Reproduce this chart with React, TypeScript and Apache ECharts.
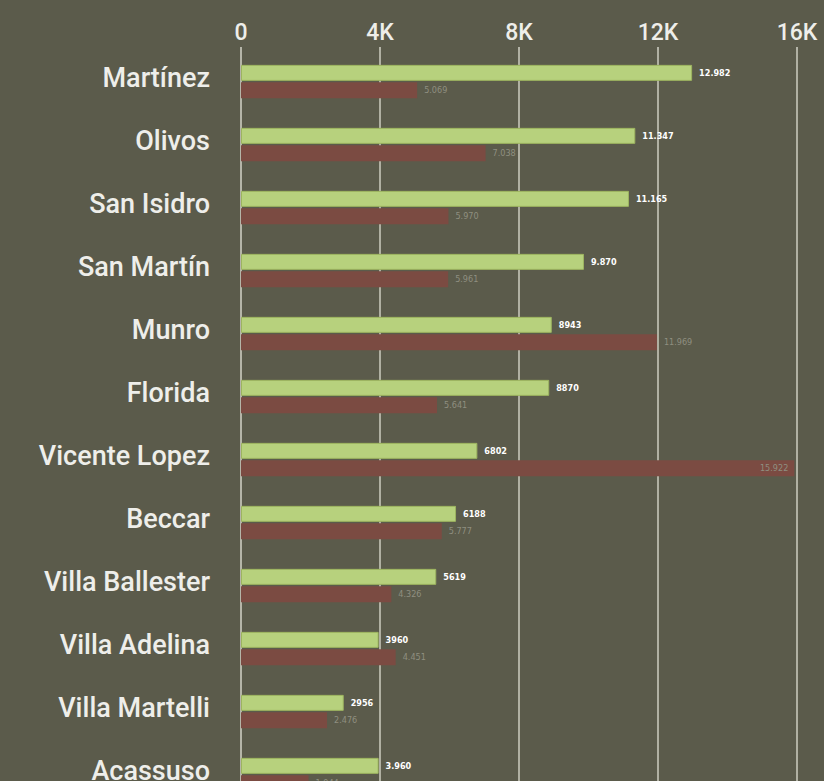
import React, { useEffect, useRef } from "react";
import * as echarts from "echarts";

const categories = [
  "Martínez", "Olivos", "San Isidro", "San Martín", "Munro", "Florida",
  "Vicente Lopez", "Beccar", "Villa Ballester", "Villa Adelina", "Villa Martelli", "Acassuso",
];
const greenValues = [12982, 11347, 11165, 9870, 8943, 8870, 6802, 6188, 5619, 3960, 2956, 3960];
const greenLabels = ["12.982", "11.347", "11.165", "9.870", "8943", "8870", "6802", "6188", "5619", "3960", "2956", "3.960"];
const redValues = [5069, 7038, 5970, 5961, 11969, 5641, 15922, 5777, 4326, 4451, 2476, 1944];
const redLabels = ["5.069", "7.038", "5.970", "5.961", "11.969", "5.641", "15.922", "5.777", "4.326", "4.451", "2.476", "1.944"];
const xTicks = [0, 4000, 8000, 12000, 16000];

const FONT = "Roboto, 'Liberation Sans', sans-serif";
const SMALL = "'DejaVu Sans Condensed', 'DejaVu Sans', sans-serif";

export default function App() {
  const ref = useRef<HTMLDivElement>(null);
  useEffect(() => {
    if (!ref.current) return;
    const chart = echarts.init(ref.current, null, { renderer: "svg" });
    chart.setOption({
      animation: false,
      backgroundColor: "#5b5b4b",
      grid: { left: 241, right: 27, top: 50, bottom: 14 },
      xAxis: {
        type: "value",
        position: "top",
        min: xTicks[0],
        max: xTicks[xTicks.length - 1],
        interval: 4000,
        axisLine: { show: false },
        axisTick: { show: true, length: 3, lineStyle: { color: "#b5b5a8", width: 2 } },
        splitLine: { show: true, lineStyle: { color: "#b0b0a2", width: 2 } },
        axisLabel: {
          color: "#eeeeea",
          fontFamily: FONT,
          fontWeight: 500,
          fontSize: 23,
          margin: 6,
          formatter: (v: number) => (v === 0 ? "0" : v / 1000 + "K"),
        },
      },
      yAxis: {
        type: "category",
        data: categories,
        inverse: true,
        axisLine: { show: true, lineStyle: { color: "#b5b5a8", width: 2 } },
        axisTick: { show: false },
        axisLabel: {
          margin: 31,
          formatter: (v: string) => "{c|" + v + "}",
          rich: {
            c: {
              color: "#eeeeea",
              fontFamily: FONT,
              fontWeight: 500,
              fontSize: 27,
              padding: [0, 0, 8, 0],
            },
          },
        },
      },
      series: [
        {
          type: "bar",
          data: greenValues,
          barWidth: 16,
          barGap: "8%",
          itemStyle: { color: "#b7d17d", borderColor: "#9db460", borderWidth: 1 },
          label: {
            show: true,
            position: "right",
            distance: 7,
            color: "#ffffff",
            fontFamily: SMALL,
            fontWeight: "bold",
            fontSize: 9,
            formatter: (p: any) => greenLabels[p.dataIndex],
          },
        },
        {
          type: "bar",
          data: redValues.map((v) => ({
            value: v,
            label: v > 15000 ? { position: "insideRight", distance: 6 } : undefined,
          })),
          barWidth: 16,
          itemStyle: { color: "#7b4b42" },
          label: {
            show: true,
            position: "right",
            distance: 7,
            color: "#8f8f80",
            fontFamily: SMALL,
            fontSize: 9,
            formatter: (p: any) => redLabels[p.dataIndex],
          },
        },
      ],
    });
    return () => chart.dispose();
  }, []);
  return (
    <div style={{ position: "fixed", left: 0, top: 0, width: 824, height: 781, overflow: "hidden", background: "#5b5b4b" }}>
      <div ref={ref} style={{ width: 824, height: 820 }} />
    </div>
  );
}
